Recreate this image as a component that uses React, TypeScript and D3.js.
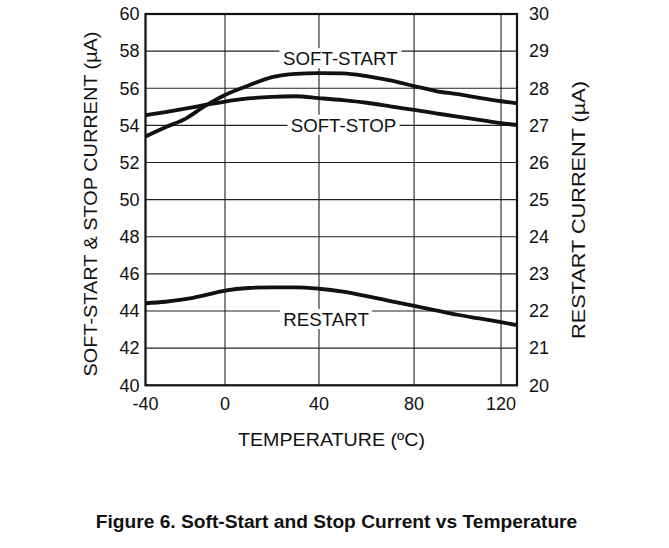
import * as d3 from 'd3';

// temperature sample points (ºC)
const temps = [-40, -30, -20, -10, 0, 10, 20, 30, 40, 50, 60, 70, 80, 90, 100, 110, 120, 127];

// left axis, µA
const softStart = [53.4, 53.9, 54.35, 55.05, 55.64, 56.15, 56.6, 56.78, 56.82, 56.8, 56.65, 56.42, 56.12, 55.85, 55.68, 55.48, 55.3, 55.19];
const softStop = [54.55, 54.72, 54.9, 55.1, 55.28, 55.45, 55.54, 55.57, 55.47, 55.36, 55.22, 55.03, 54.83, 54.65, 54.47, 54.3, 54.12, 54.02];

// right axis, µA
const restart = [22.21, 22.25, 22.32, 22.43, 22.55, 22.62, 22.64, 22.64, 22.6, 22.52, 22.4, 22.27, 22.14, 22.02, 21.9, 21.8, 21.7, 21.62];

const xTicks = [-40, 0, 40, 80, 120];
const leftTicks = [40, 42, 44, 46, 48, 50, 52, 54, 56, 58, 60];
const rightTicks = [20, 21, 22, 23, 24, 25, 26, 27, 28, 29, 30];

const width = 669;
const height = 548;
const plot = { left: 145.5, right: 517, top: 14, bottom: 385.3 };
const font = 'Arial, "Liberation Sans", Helvetica, sans-serif';

export default function App() {
  // the original grid is not evenly spaced, so the scale is piecewise
  const pw = plot.right - plot.left;
  const x = d3
    .scaleLinear()
    .domain([-40, 0, 40, 80, 120, 127])
    .range([0, 0.214, 0.467, 0.723, 0.957, 1].map((f) => plot.left + f * pw));

  const yL = d3.scaleLinear().domain([40, 60]).range([plot.bottom, plot.top]);
  const yR = d3.scaleLinear().domain([20, 30]).range([plot.bottom, plot.top]);

  const lineL = d3
    .line<number>()
    .x((_, i) => x(temps[i]))
    .y((d) => yL(d))
    .curve(d3.curveMonotoneX);
  const lineR = d3
    .line<number>()
    .x((_, i) => x(temps[i]))
    .y((d) => yR(d))
    .curve(d3.curveMonotoneX);

  const labels = [
    { text: 'SOFT-START', x: x(49), y: yL(57.25), w: 122 },
    { text: 'SOFT-STOP', x: x(50.3), y: yL(53.66), w: 112 },
    { text: 'RESTART', x: x(43), y: yR(21.6), w: 92 },
  ];

  return (
    <>
      <style>{'body{margin:0}'}</style>
      <svg width={width} height={height} style={{ display: 'block', fontFamily: font }}>
        <rect width={width} height={height} fill="#fff" />

        {/* grid */}
        <g stroke="#222" strokeWidth={1.1}>
          {xTicks.map((t) => (
            <line key={'gx' + t} x1={x(t)} x2={x(t)} y1={plot.top} y2={plot.bottom} />
          ))}
          {leftTicks.map((t) => (
            <line key={'gy' + t} x1={plot.left} x2={plot.right} y1={yL(t)} y2={yL(t)} />
          ))}
        </g>

        {/* curve labels sit on white boxes that break the grid */}
        {labels.map((l) => (
          <g key={l.text}>
            <rect x={l.x - l.w / 2} y={l.y - 17} width={l.w} height={20} fill="#fff" />
            <text x={l.x} y={l.y} textAnchor="middle" fontSize={18.7} fill="#111">
              {l.text}
            </text>
          </g>
        ))}

        {/* curves */}
        <g fill="none" stroke="#111" strokeWidth={3.8} strokeLinejoin="round">
          <path d={lineL(softStart) as string} />
          <path d={lineL(softStop) as string} />
          <path d={lineR(restart) as string} />
        </g>

        {/* frame */}
        <rect
          x={plot.left}
          y={plot.top}
          width={plot.right - plot.left}
          height={plot.bottom - plot.top}
          fill="none"
          stroke="#111"
          strokeWidth={2.2}
        />

        {/* tick labels */}
        <g fontSize={18} fill="#111">
          {leftTicks.map((t) => (
            <text key={'l' + t} x={plot.left - 6} y={yL(t)} dy="0.35em" textAnchor="end">
              {t}
            </text>
          ))}
          {rightTicks.map((t) => (
            <text key={'r' + t} x={plot.right + 12} y={yR(t)} dy="0.35em" textAnchor="start">
              {t}
            </text>
          ))}
          {xTicks.map((t) => (
            <text key={'x' + t} x={x(t)} y={plot.bottom + 25} textAnchor="middle">
              {t}
            </text>
          ))}
        </g>

        {/* axis titles */}
        <text
          transform="translate(97,204) rotate(-90)"
          textAnchor="middle"
          fontSize={17.5}
          textLength={345}
          lengthAdjust="spacingAndGlyphs"
          fill="#111"
        >
          SOFT-START &amp; STOP CURRENT (µA)
        </text>
        <text
          transform="translate(585,210) rotate(-90)"
          textAnchor="middle"
          fontSize={17.5}
          textLength={258}
          lengthAdjust="spacingAndGlyphs"
          fill="#111"
        >
          RESTART CURRENT (µA)
        </text>
        <text
          x={331.5}
          y={446}
          textAnchor="middle"
          fontSize={18}
          textLength={187}
          lengthAdjust="spacingAndGlyphs"
          fill="#111"
        >
          TEMPERATURE (ºC)
        </text>

        <text x={336.5} y={528} textAnchor="middle" fontSize={19.2} fontWeight="bold" fill="#111">
          Figure 6. Soft-Start and Stop Current vs Temperature
        </text>
      </svg>
    </>
  );
}
